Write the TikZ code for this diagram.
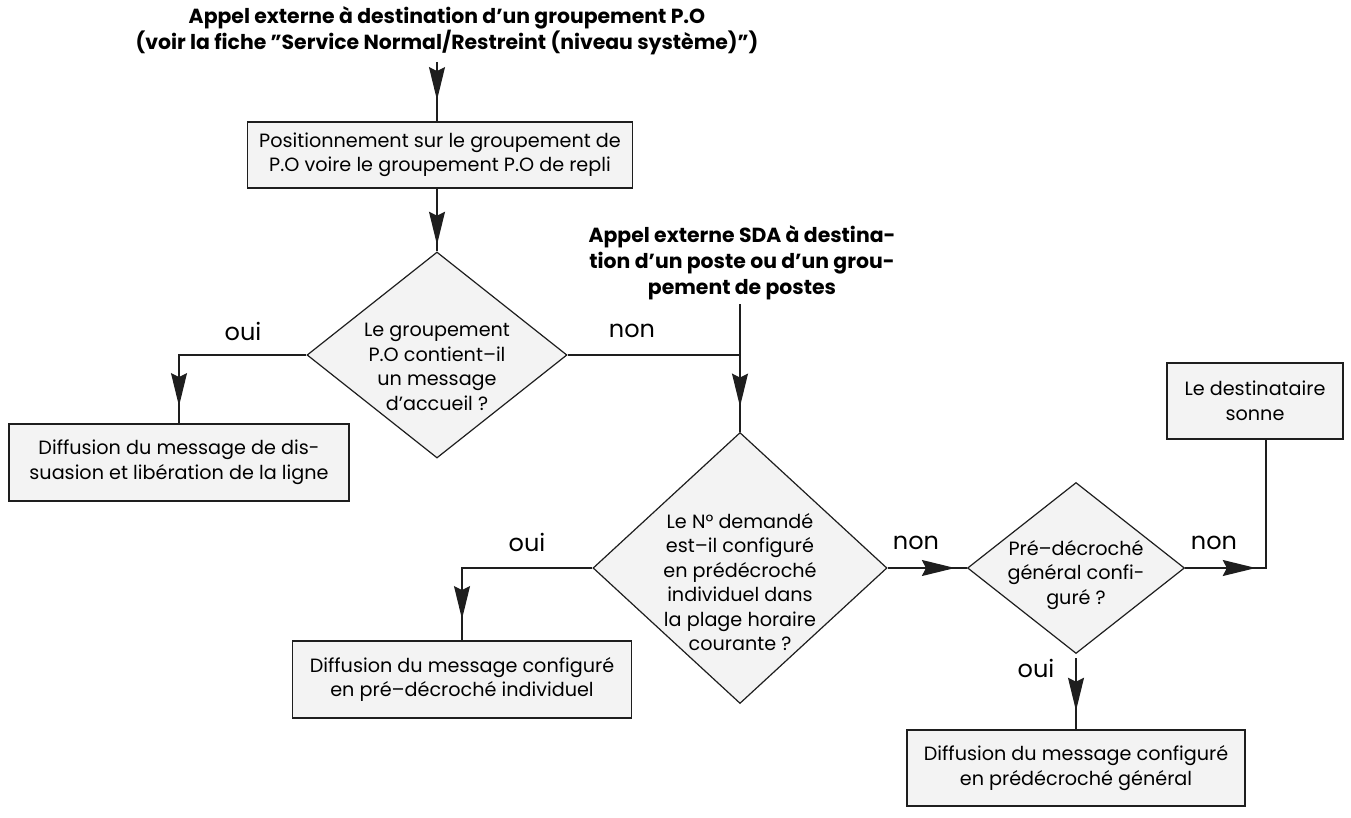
\documentclass[tikz,border=0pt]{standalone}
\usepackage{fontspec}
\setmainfont{Poppins}
\usetikzlibrary{shapes.geometric,arrows.meta,decorations.markings}
\newdimen\pxu \pxu=0.75pt
\definecolor{boxfill}{HTML}{F3F3F3}
\definecolor{linec}{HTML}{1E1E1E}
\begin{document}
\begin{tikzpicture}[x=0.75pt,y=-0.75pt,
  txt/.style={font=\fontsize{14.4pt}{18.4pt}\selectfont, align=center, inner sep=0pt},
  boldtxt/.style={font=\bfseries\fontsize{15.3pt}{19.5pt}\selectfont, align=center, inner sep=0pt},
  lbl/.style={font=\fontsize{18pt}{20pt}\selectfont, inner sep=0pt},
  box/.style={txt, draw=linec, fill=boxfill, line width=0.9pt},
  dia/.style={diamond, draw=linec, fill=boxfill, line width=0.9pt, inner sep=-40pt},
  conn/.style={draw=linec, line width=0.9pt},
  arrowat/.style={postaction={decorate,decoration={markings,mark=at position #1 with {\arrow{Stealth[length=24.75pt,width=12pt,inset=3pt]}}}}}
]
\fill[white] (0,0) rectangle (1351,817);
\useasboundingbox (0,0) rectangle (1351,817);

% title
\node[boldtxt] (t) at (447,31) {Appel externe à destination d’un groupement P.O\\(voir la fiche ”Service Normal/Restreint (niveau système)”)};
\coordinate (t0) at (437,62);

\node[box, minimum width=385\pxu, minimum height=66\pxu] (b1) at (440,155) {Positionnement sur le groupement de\\P.O voire le groupement P.O de repli};

\node[dia, minimum width=260\pxu, minimum height=206\pxu] (d1) at (437,355) {};
\node[txt] (d1t) at (437,367) {Le groupement\\P.O contient–il\\un message\\d’accueil ?};

\node[box, minimum width=340\pxu, minimum height=77\pxu] (bdis) at (179,462.5) {Diffusion du message de dis-\\suasion et libération de la ligne};

\node[boldtxt] (sda) at (742,263) {Appel externe SDA à destina-\\tion d’un poste ou d’un grou-\\pement de postes};
\coordinate (s0) at (740,304);

\node[dia, minimum width=294\pxu, minimum height=271\pxu] (d2) at (740,568) {};
\node[txt] (d2t) at (740,582) {Le N° demandé\\est–il configuré\\en prédécroché\\individuel dans\\la plage horaire\\courante ?};

\node[box, minimum width=339\pxu, minimum height=77\pxu] (bind) at (462,679.5) {Diffusion du message configuré\\en pré–décroché individuel};

\node[dia, minimum width=217\pxu, minimum height=171\pxu] (d3) at (1076,568) {};
\node[txt] (d3t) at (1076,575) {Pré–décroché\\général confi-\\guré ?};

\node[box, minimum width=176\pxu, minimum height=76\pxu] (dest) at (1255,401) {Le destinataire\\sonne};

\node[box, minimum width=338\pxu, minimum height=76\pxu] (bgen) at (1076,768) {Diffusion du message configuré\\en prédécroché général};

% labels
\node[lbl] (l1) at (243,331) {oui};
\node[lbl] (l2) at (632,331) {non};
\node[lbl] (l3) at (527,542) {oui};
\node[lbl] (l4) at (916,543) {non};
\node[lbl] (l5) at (1214,543) {non};
\node[lbl] (l6) at (1036,668) {oui};

% connectors
\draw[conn, arrowat=-16pt] (t0) -- (t0 |- b1.north);
\draw[conn, arrowat=-5pt] (b1.south -| d1.north) -- (d1.north);
\draw[conn, arrowat=-13pt] (d1.west) -| (bdis.north);
\draw[conn] (d1.east) -- (d1.east -| d2.north);
\draw[conn, arrowat=-19pt] (s0) -- (d2.north);
\draw[conn, arrowat=-16pt] (d2.west) -| (bind.north);
\draw[conn, arrowat=-9pt] (d2.east) -- (d3.west);
\draw[conn, arrowat=53pt] (d3.east) -| ([xshift=8.25pt]dest.south);
\draw[conn, arrowat=-14pt] ([yshift=-3pt]d3.south) -- (bgen.north);
\end{tikzpicture}
\end{document}
